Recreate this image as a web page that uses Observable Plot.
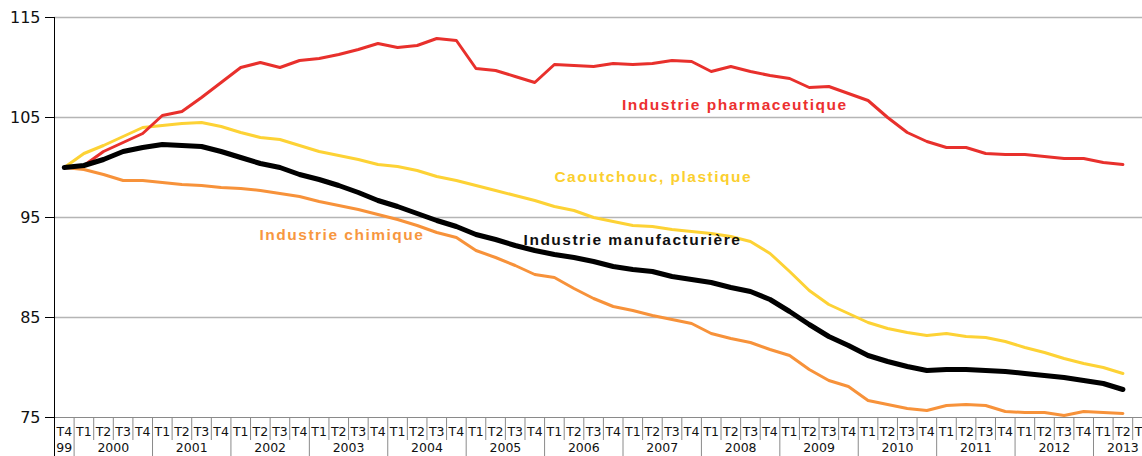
<!DOCTYPE html>
<html><head><meta charset="utf-8">
<script src="https://cdn.jsdelivr.net/npm/d3@7"></script>
<script src="https://cdn.jsdelivr.net/npm/@observablehq/plot@0.6"></script>
<style>
html,body{margin:0;padding:0;background:#fff;overflow:hidden}
#chart svg{display:block;font-family:"DejaVu Sans",sans-serif}
g[font-weight="bold"] text{letter-spacing:1.5px}
</style></head><body><div id="chart"></div>
<script>
// Tick labels
const yearLabels = ["99","2000","2001","2002","2003","2004","2005","2006","2007","2008","2009","2010","2011","2012","2013"];
const yearQuarters = [
  ["T4"],
  ["T1","T2","T3","T4"],["T1","T2","T3","T4"],["T1","T2","T3","T4"],["T1","T2","T3","T4"],
  ["T1","T2","T3","T4"],["T1","T2","T3","T4"],["T1","T2","T3","T4"],["T1","T2","T3","T4"],
  ["T1","T2","T3","T4"],["T1","T2","T3","T4"],["T1","T2","T3","T4"],["T1","T2","T3","T4"],
  ["T1","T2","T3","T4"],
  ["T1","T2","T3"]
];
const yTicks = [75, 85, 95, 105, 115];

// Series (T4 1999 = 100), T4 1999 .. T2 2013
const pharma = [100,100.2,101.6,102.5,103.4,105.2,105.6,107.0,108.5,110.0,
  110.5,110.0,110.7,110.9,111.3,111.8,112.4,112.0,112.2,112.9,
  112.7,109.9,109.7,109.1,108.5,110.3,110.2,110.1,110.4,110.3,
  110.4,110.7,110.6,109.6,110.1,109.6,109.2,108.9,108.0,108.1,
  107.4,106.7,105.0,103.5,102.6,102.0,102.0,101.4,101.3,101.3,
  101.1,100.9,100.9,100.5,100.3];
const caoutchouc = [100,101.4,102.2,103.1,104.0,104.2,104.4,104.5,104.1,103.5,
  103.0,102.8,102.2,101.6,101.2,100.8,100.3,100.1,99.7,99.1,
  98.7,98.2,97.7,97.2,96.7,96.1,95.7,95.0,94.6,94.2,
  94.1,93.8,93.6,93.4,93.1,92.6,91.4,89.6,87.7,86.3,
  85.4,84.5,83.9,83.5,83.2,83.4,83.1,83.0,82.6,82.0,
  81.5,80.9,80.4,80.0,79.4];
const manuf = [100,100.2,100.8,101.6,102.0,102.3,102.2,102.1,101.6,101.0,
  100.4,100.0,99.3,98.8,98.2,97.5,96.7,96.1,95.4,94.7,
  94.1,93.3,92.8,92.2,91.7,91.3,91.0,90.6,90.1,89.8,
  89.6,89.1,88.8,88.5,88.0,87.6,86.8,85.6,84.3,83.1,
  82.2,81.2,80.6,80.1,79.7,79.8,79.8,79.7,79.6,79.4,
  79.2,79.0,78.7,78.4,77.8];
const chimie = [100,99.8,99.3,98.7,98.7,98.5,98.3,98.2,98.0,97.9,
  97.7,97.4,97.1,96.6,96.2,95.8,95.3,94.8,94.2,93.5,
  93.0,91.7,91.0,90.2,89.3,89.0,87.9,86.9,86.1,85.7,
  85.2,84.8,84.4,83.4,82.9,82.5,81.8,81.2,79.8,78.7,
  78.1,76.7,76.3,75.9,75.7,76.2,76.3,76.2,75.6,75.5,
  75.5,75.2,75.6,75.5,75.4];

// Build the period table from tick labels
const periods = [];
const years = [];
yearLabels.forEach((y, k) => {
  const start = periods.length;
  yearQuarters[k].forEach(q => periods.push({q, year: y}));
  const end = periods.length - 1;
  years.push({label: y, center: (start + end) / 2, start});
});
const quarterBounds = d3.range(1, periods.length).map(i => i - 0.5)
  .filter(b => !years.some(y => y.start - 0.5 === b));
const yearBounds = years.slice(1).map(y => y.start - 0.5);

const colors = {pharma: "#e8302c", caout: "#fdd235", manuf: "#000000", chimie: "#f7923a"};

const labels = [
  {text: "Industrie pharmaceutique", x: 28.45, y: 105.8, fill: "#ec3030"},
  {text: "Caoutchouc, plastique", x: 25.0, y: 98.56, fill: "#fbcf2f"},
  {text: "Industrie manufacturière", x: 23.43, y: 92.3, fill: "#111111"},
  {text: "Industrie chimique", x: 9.96, y: 92.8, fill: "#f7973f"}
];

const chart = Plot.plot({
  width: 1142,
  height: 456,
  marginLeft: 54,
  marginRight: 0,
  marginTop: 17,
  marginBottom: 39,
  x: {type: "linear", domain: [-0.5, 55], axis: null},
  y: {domain: [75, 115], axis: null},
  marks: [
    Plot.ruleY(yTicks.filter(t => t > 75), {stroke: "#b5b5b5", strokeWidth: 1.3}),
    Plot.ruleY([75], {stroke: "#8a8a8a", strokeWidth: 1.2}),
    Plot.ruleX(quarterBounds, {y1: 75, y2: 72.7, stroke: "#8a8a8a"}),
    Plot.ruleX(yearBounds, {y1: 75, y2: 71, stroke: "#8a8a8a"}),
    Plot.ruleX([-0.5], {y1: 71, y2: 115, stroke: "#000"}),
    Plot.axisY(yTicks, {label: null, tickSize: 9, tickPadding: 5, fontSize: 16, stroke: "#000", fill: "#111"}),
    Plot.lineY(chimie, {stroke: colors.chimie, strokeWidth: 3}),
    Plot.lineY(caoutchouc, {stroke: colors.caout, strokeWidth: 3}),
    Plot.lineY(pharma, {stroke: colors.pharma, strokeWidth: 3}),
    Plot.lineY(manuf, {stroke: colors.manuf, strokeWidth: 5}),
    Plot.text(periods, {x: (d, i) => i, text: d => d.q, frameAnchor: "bottom", dy: 18, fontSize: 12.5, fill: "#111"}),
    Plot.text(years, {x: "center", text: "label", frameAnchor: "bottom", dy: 34, fontSize: 12.5, fill: "#111"}),
    Plot.text(labels, {x: "x", y: "y", text: "text", fill: "fill", textAnchor: "start", lineAnchor: "bottom",
      fontSize: 15.5, fontWeight: "bold", fontFamily: "Liberation Sans, Arial, sans-serif"})
  ]
});
document.getElementById("chart").appendChild(chart);
</script>
</body></html>
